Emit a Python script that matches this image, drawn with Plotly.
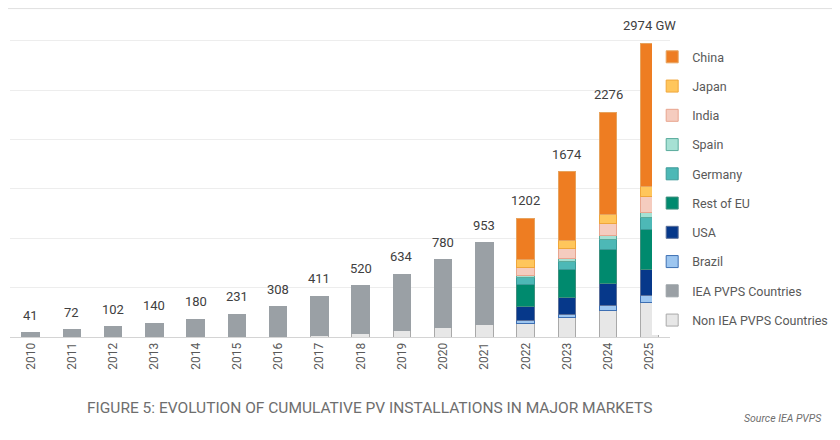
import plotly.graph_objects as go

# years and totals (GW)
years = [str(y) for y in range(2010, 2026)]
totals = [41, 72, 102, 140, 180, 231, 308, 411, 520, 634, 780, 953, 1202, 1674, 2276, 2974]
total_labels = [str(t) for t in totals[:-1]] + ["2974 GW"]

# split per market (None = not shown that year)
non_iea = [1, 2, 3, 4, 5, 7, 10, 20, 40, 63, 97, 128, 140, 200, 268, 352]
iea_pvps = [t - n for t, n in zip(totals[:12], non_iea[:12])] + [None] * 4
brazil = [None] * 12 + [23, 27, 47, 67]
usa = [None] * 12 + [147, 178, 228, 265]
rest_eu = [None] * 12 + [225, 282, 346, 406]
germany = [None] * 12 + [64, 77, 94, 117]
spain = [None] * 12 + [20, 33, 40, 54]
india = [None] * 12 + [87, 100, 128, 161]
japan = [None] * 12 + [74, 84, 94, 100]
china = [None] * 12 + [422, 693, 1031, 1452]

# bottom to top
series = [
    ("Non IEA PVPS Countries", non_iea, "#e7e7e7", "#a9a9a9"),
    ("IEA PVPS Countries", iea_pvps, "#9aa0a5", "#9aa0a5"),
    ("Brazil", brazil, "#9dc6f0", "#3d6fb3"),
    ("USA", usa, "#06388a", "#5a6f99"),
    ("Rest of EU", rest_eu, "#008a6e", "#3e8f7d"),
    ("Germany", germany, "#4db8b6", "#3d9a98"),
    ("Spain", spain, "#a6e1d4", "#5aab9c"),
    ("India", india, "#f5ccbf", "#e8a58f"),
    ("Japan", japan, "#ffc65c", "#f0a63a"),
    ("China", china, "#ee7d22", "#e7a35e"),
]

fig = go.Figure()
for i, (name, vals, color, edge) in enumerate(series):
    fig.add_trace(go.Bar(
        x=years, y=vals, name=name,
        marker=dict(color=color, line=dict(color=edge, width=1)),
        legendgroup=str(i), legendrank=100 - i,
    ))

# totals above the bars (x as category index)
for i, (t, lab) in enumerate(zip(totals, total_labels)):
    fig.add_annotation(x=i, y=t, text=lab, showarrow=False,
                       yanchor="bottom", yshift=8,
                       font=dict(size=13, color="#404040"))

fig.add_annotation(text="FIGURE 5: EVOLUTION OF CUMULATIVE PV INSTALLATIONS IN MAJOR MARKETS",
                   xref="paper", yref="paper", x=0.545, y=-0.225,
                   xanchor="center", yanchor="middle", showarrow=False,
                   font=dict(family="Roboto, sans-serif", size=15.5, color="#6e6e6e"))
fig.add_annotation(text="<i>Source IEA PVPS</i>",
                   xref="paper", yref="paper", x=1.171, y=-0.256,
                   xanchor="center", yanchor="middle", showarrow=False,
                   font=dict(family="Roboto, sans-serif", size=10.5, color="#6e6e6e"))

fig.update_layout(
    width=840, height=440,
    barmode="stack", bargap=0.58,
    plot_bgcolor="white", paper_bgcolor="white",
    margin=dict(l=2, r=178, t=12, b=111, autoexpand=False),
    font=dict(family="Roboto, sans-serif", color="#595959"),
    legend=dict(x=0.973, y=0.93, xanchor="left", yanchor="top", traceorder="grouped",
                tracegroupgap=10, font=dict(size=12.5, color="#595959")),
    xaxis=dict(type="category", range=[-0.5, 15.5], tickangle=-90,
               tickfont=dict(size=12, color="#595959"),
               showline=True, linecolor="#d4d4d4", ticks=""),
    yaxis=dict(range=[0, 3210], dtick=500, showticklabels=False,
               gridcolor="#ededed", zeroline=False),
    shapes=[dict(type="line", xref="paper", yref="paper", x0=-0.01, x1=1.27, y0=1.036, y1=1.036,
                 line=dict(color="#e0e0e0", width=1))],
)

fig.write_html("out.html")
